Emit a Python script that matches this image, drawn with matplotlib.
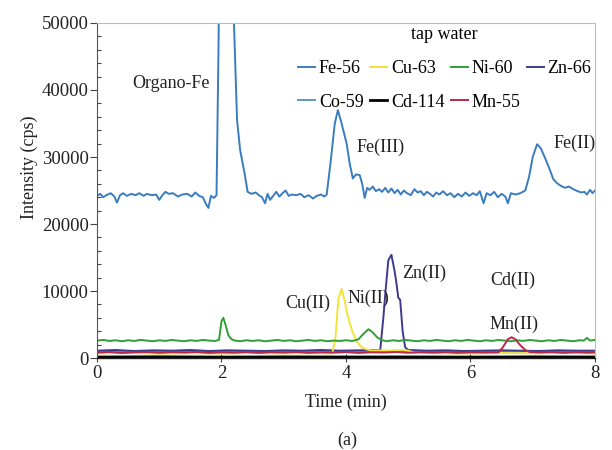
import matplotlib
matplotlib.use("Agg")
import matplotlib.pyplot as plt
from matplotlib.ticker import MultipleLocator

plt.rcParams['font.family'] = ['Liberation Serif', 'DejaVu Serif']

# Fe-56 (time in min, intensity in cps)
fe_t = [0.00, 0.05, 0.10, 0.15, 0.22, 0.28, 0.32, 0.37, 0.42, 0.48, 0.55, 0.62,
        0.68, 0.75, 0.80, 0.88, 0.95, 1.00, 1.05, 1.10, 1.15, 1.22, 1.30, 1.37,
        1.45, 1.52, 1.58, 1.64, 1.70, 1.75, 1.79, 1.83, 1.88, 1.92, 1.95, 1.98,
        2.05, 2.15, 2.20, 2.25, 2.30, 2.37, 2.42, 2.48, 2.55, 2.60, 2.65, 2.70,
        2.74, 2.78, 2.83, 2.88, 2.93, 2.98, 3.03, 3.08, 3.13, 3.20, 3.27, 3.33,
        3.40, 3.47, 3.53, 3.60, 3.65, 3.69, 3.75, 3.82, 3.87, 3.93, 4.01, 4.06,
        4.11, 4.16, 4.22, 4.26, 4.30, 4.34, 4.38, 4.43, 4.48, 4.53, 4.58, 4.63,
        4.68, 4.73, 4.78, 4.83, 4.88, 4.93, 4.98, 5.04, 5.10, 5.15, 5.20, 5.25,
        5.30, 5.35, 5.40, 5.45, 5.50, 5.56, 5.62, 5.68, 5.74, 5.80, 5.86, 5.92,
        5.98, 6.04, 6.10, 6.15, 6.21, 6.26, 6.32, 6.38, 6.44, 6.50, 6.56, 6.60,
        6.65, 6.72, 6.80, 6.88, 6.94, 7.00, 7.07, 7.13, 7.20, 7.27, 7.33, 7.39,
        7.45, 7.52, 7.58, 7.65, 7.72, 7.78, 7.83, 7.87, 7.92, 7.96, 8.00]
fe_y = [24200, 24500, 24000, 24300, 24600, 24100, 23200, 24300, 24600, 24200, 24500, 24300,
        24600, 24200, 24500, 24300, 24400, 23600, 24300, 24800, 24500, 24600, 24100, 24400,
        24500, 24100, 24700, 24200, 24000, 23000, 22400, 24200, 23900, 24300, 45000, 70000,
        90000, 70000, 50000, 35500, 31000, 27600, 24800, 24500, 24700, 24300, 24000, 23100,
        24500, 23600, 24200, 24800, 24100, 24600, 25000, 24200, 24400, 24300, 24500, 24000,
        24300, 23800, 24200, 24400, 24100, 24400, 29000, 35000, 37000, 35000, 32000, 29000,
        26800, 27400, 27300, 26000, 23900, 25400, 25100, 25600, 24900, 25200, 24800, 25400,
        24700, 25300, 24600, 25100, 24400, 25000, 24600, 24300, 25200, 24700, 24900, 24300,
        24800, 24500, 24100, 24700, 24400, 24900, 24300, 24600, 24000, 24500, 24100, 24700,
        24200, 24600, 24300, 24900, 23100, 24600, 24300, 24800, 24000, 24500, 24100, 23100,
        24600, 24400, 24600, 25000, 27000, 30000, 31900, 31300, 29800, 28200, 26700, 26100,
        25700, 25400, 25600, 25200, 24900, 24700, 24800, 24400, 25100, 24600, 25000]

# Ni-60
ni_t = [0.0, 0.1, 0.2, 0.3, 0.4, 0.5, 0.6, 0.7, 0.8, 0.9, 1.0, 1.1, 1.2, 1.3, 1.4,
        1.5, 1.6, 1.7, 1.8, 1.9, 1.96, 2.00, 2.03, 2.07, 2.11, 2.16, 2.22, 2.3, 2.4,
        2.5, 2.6, 2.7, 2.8, 2.9, 3.0, 3.1, 3.2, 3.3, 3.4, 3.5, 3.6, 3.7, 3.8, 3.9,
        4.0, 4.1, 4.15, 4.20, 4.28, 4.36, 4.42, 4.50, 4.57, 4.65, 4.75, 4.85, 4.95,
        5.05, 5.15, 5.25, 5.35, 5.45, 5.55, 5.65, 5.75, 5.85, 5.95, 6.05, 6.15, 6.25,
        6.35, 6.45, 6.55, 6.65, 6.75, 6.85, 6.95, 7.05, 7.15, 7.25, 7.35, 7.45, 7.55,
        7.65, 7.75, 7.82, 7.87, 7.92, 8.0]
ni_y = [2600, 2700, 2550, 2650, 2500, 2650, 2550, 2700, 2600, 2500, 2650, 2550, 2700, 2600, 2500,
        2650, 2550, 2700, 2600, 2550, 2700, 5500, 6000, 4800, 3400, 2800, 2600, 2500, 2650,
        2550, 2650, 2500, 2600, 2700, 2550, 2650, 2500, 2600, 2700, 2550, 2650, 2500, 2600, 2550,
        2650, 2550, 2650, 2800, 3600, 4300, 3900, 3100, 2700, 2500, 2650, 2550, 2700,
        2600, 2500, 2650, 2550, 2700, 2600, 2500, 2650, 2550, 2700, 2600, 2500, 2650,
        2550, 2700, 2600, 2500, 2650, 2550, 2700, 2600, 2500, 2650, 2550, 2700, 2600,
        2500, 2650, 2600, 3000, 2600, 2700]

# Cu-63
cu_t = [0.0, 0.5, 1.0, 1.5, 2.0, 2.5, 3.0, 3.5, 3.78, 3.83, 3.88, 3.93, 3.98, 4.03,
        4.10, 4.17, 4.25, 4.33, 4.42, 4.5, 4.7, 4.9, 5.0, 5.1, 5.5, 6.0, 6.5, 7.0, 7.5, 8.0]
cu_y = [700, 750, 650, 720, 680, 740, 690, 720, 700, 3000, 9000, 10300, 8500, 6200,
        4000, 2500, 1600, 1300, 1100, 1150, 1100, 1200, 1100, 800, 720, 680, 750, 700, 760, 700]

# Zn-66
zn_t = [0.0, 0.3, 0.6, 0.9, 1.2, 1.5, 1.8, 2.1, 2.4, 2.7, 3.0, 3.3, 3.6, 3.9, 4.2,
        4.55, 4.60, 4.64, 4.68, 4.73, 4.78, 4.81, 4.84, 4.87, 4.91, 4.95, 5.0, 5.3,
        5.6, 5.9, 6.2, 6.5, 6.8, 7.1, 7.4, 7.7, 8.0]
zn_y = [1100, 1200, 1050, 1150, 1100, 1200, 1050, 1150, 1100, 1050, 1150, 1100, 1200, 1100, 1150,
        1200, 6000, 10500, 14600, 15400, 13000, 11200, 9000, 8700, 4000, 1600, 1200, 1100,
        1150, 1050, 1100, 1150, 1100, 1050, 1150, 1100, 1100]

# Co-59
co_t = [0.0, 1.0, 2.0, 3.0, 4.0, 5.0, 6.0, 7.0, 8.0]
co_y = [950, 1000, 950, 980, 1000, 960, 1000, 980, 950]

# Cd-114
cd_t = [0.0, 1.0, 2.0, 3.0, 4.0, 5.0, 6.0, 7.0, 8.0]
cd_y = [150, 180, 140, 170, 150, 160, 140, 170, 150]

# Mn-55
mn_t = [0.0, 0.2, 0.4, 0.6, 0.8, 1.0, 1.2, 1.4, 1.6, 1.8, 2.0, 2.2, 2.4, 2.6, 2.8,
        3.0, 3.2, 3.4, 3.6, 3.8, 4.0, 4.2, 4.4, 4.6, 4.8, 5.0, 5.2, 5.4, 5.6, 5.8,
        6.0, 6.2, 6.45, 6.52, 6.60, 6.66, 6.72, 6.80, 6.88, 6.95, 7.1, 7.3, 7.5,
        7.7, 7.9, 8.0]
mn_y = [800, 900, 750, 850, 900, 780, 870, 820, 900, 760, 850, 800, 880, 770, 860,
        820, 900, 780, 850, 800, 880, 760, 850, 820, 900, 780, 860, 800, 880, 770,
        850, 820, 850, 1600, 2800, 3100, 2800, 1900, 1200, 900, 820, 880, 780,
        860, 800, 850]

series = [
    ("Fe-56", fe_t, fe_y, "#3a7cc0"),
    ("Co-59", co_t, co_y, "#5b98b4"),
    ("Zn-66", zn_t, zn_y, "#3e3a8e"),
    ("Cu-63", cu_t, cu_y, "#f2e23a"),
    ("Ni-60", ni_t, ni_y, "#2f9f35"),
    ("Mn-55", mn_t, mn_y, "#b8284a"),
    ("Cd-114", cd_t, cd_y, "#000000"),
]
legend_order = ["Fe-56", "Co-59", "Cu-63", "Cd-114", "Ni-60", "Mn-55", "Zn-66"]

peak_labels = [
    ("Organo-Fe", 0.56, 41000),
    ("Fe(III)", 4.17, 31500),
    ("Fe(II)", 7.33, 32100),
    ("Zn(II)", 4.90, 12700),
    ("Cd(II)", 6.31, 11600),
    ("Cu(II)", 3.02, 8100),
    ("Ni(II)", 4.02, 8900),
    ("Mn(II)", 6.31, 5000),
]

fig = plt.figure(figsize=(6.12, 4.5), dpi=100)
ax = fig.add_axes([0.1585, 0.2044, 0.8137, 0.7445])

handles = {}
for name, t, y, c in series:
    lw = 2.0 if name == "Cd-114" else 1.4
    line, = ax.plot(t, y, color=c, lw=lw, label=name)
    handles[name] = line

ax.set_xlim(0, 8)
ax.set_ylim(0, 50000)
ax.xaxis.set_major_locator(MultipleLocator(2))
ax.yaxis.set_major_locator(MultipleLocator(10000))
ax.yaxis.set_minor_locator(MultipleLocator(2000))
ax.tick_params(axis="y", which="major", direction="out", length=5, width=0.8,
               labelsize=13.5, pad=1, colors="#444444", labelcolor="#222222")
ax.tick_params(axis="y", which="minor", direction="in", length=3, width=0.8, colors="#444444")
ax.tick_params(axis="x", which="major", direction="inout", length=6, width=0.8,
               labelsize=13.5, pad=2, colors="#444444", labelcolor="#222222")

for s in ["top", "right"]:
    ax.spines[s].set_color("#bbbbbb")
ax.spines["left"].set_color("#555555")
ax.spines["bottom"].set_color("#222222")
ax.spines["bottom"].set_linewidth(1.0)

ax.set_xlabel("Time (min)", fontsize=13, color="#222222")
ax.xaxis.set_label_coords(0.5, -0.105)
ax.set_ylabel("Intensity (cps)", fontsize=13, color="#222222")
ax.yaxis.set_label_coords(-0.118, 0.57)

for txt, x, y in peak_labels:
    ax.text(x, y, txt, fontsize=13, color="#222222", ha="left", va="center")

leg = ax.legend([handles[n] for n in legend_order], legend_order, ncol=4,
                loc="upper left", bbox_to_anchor=(0.404, 0.99), frameon=False,
                fontsize=13, title="tap water", title_fontsize=13,
                handlelength=0.95, handletextpad=0.2, columnspacing=0.35,
                labelspacing=0.92, borderpad=0, borderaxespad=0)

fig.text(0.567, 0.022, "(a)", fontsize=13, ha="center", va="center", color="#222222")

fig.savefig("out.png", dpi=100)
